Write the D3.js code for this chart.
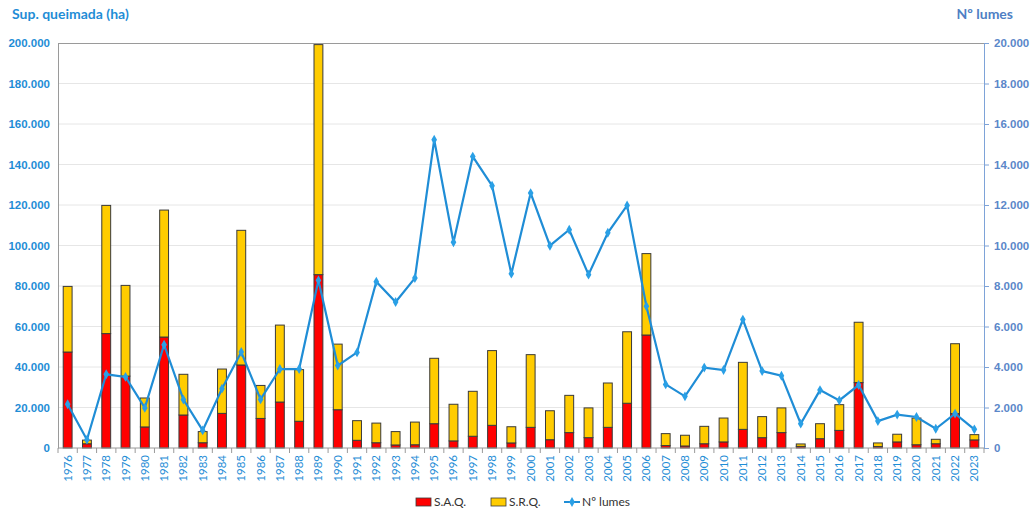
<!DOCTYPE html>
<html>
<head>
<meta charset="utf-8">
<script src="https://cdn.jsdelivr.net/npm/d3@7"></script>
<style>
  body { margin: 0; background: #fff; }
  svg { font-family: Lato, "Noto Sans", sans-serif; }
</style>
</head>
<body>
<svg id="chart" width="1034" height="518"></svg>
<script>
// years on the x axis
var years = [1976,1977,1978,1979,1980,1981,1982,1983,1984,1985,1986,1987,1988,1989,1990,
             1991,1992,1993,1994,1995,1996,1997,1998,1999,2000,2001,2002,2003,2004,2005,
             2006,2007,2008,2009,2010,2011,2012,2013,2014,2015,2016,2017,2018,2019,2020,
             2021,2022,2023];
// S.A.Q. (ha)
var saq = [47400,2100,56500,35500,10400,54800,16300,2600,17100,41000,14600,22700,13200,85600,18900,
           3800,2600,1500,1600,12000,3500,5800,11200,2500,10200,4100,7600,5100,10200,22100,
           55800,1200,1000,2100,3000,9200,5100,7600,800,4600,8700,32300,700,3000,1600,
           2100,17000,4000];
// S.R.Q. (ha) = total minus S.A.Q.
var srq = [32400,1800,63300,44800,14300,62700,20100,5500,21900,66500,16300,38000,25500,113600,32400,
           9700,9700,6600,11200,32300,18100,22200,36900,8000,35900,14300,18400,14700,21900,35300,
           40200,5900,5300,8600,11800,33100,10400,12200,1200,7400,12700,29800,1800,3800,13200,
           2200,34500,2600];
// Nº lumes
var lumes = [2160,410,3640,3510,1980,5100,2390,870,2930,4740,2400,3900,3900,8280,4070,
             4720,8210,7210,8390,15220,10160,14390,12950,8610,12590,9990,10780,8560,10630,11980,
             7000,3140,2550,3970,3850,6340,3800,3570,1200,2860,2350,3110,1330,1650,1530,
             950,1700,920];
var leftTicks = [0,20000,40000,60000,80000,100000,120000,140000,160000,180000,200000];
var rightTicks = [0,2000,4000,6000,8000,10000,12000,14000,16000,18000,20000];

(function () {
    var svg = d3.select("svg#chart");
    var margin = {left: 58, right: 50, top: 43, bottom: 70},
        width = 1034 - margin.left - margin.right,
        height = 518 - margin.top - margin.bottom;

    var pt = d3.formatLocale({decimal: ",", thousands: ".", grouping: [3], currency: ["", ""]});
    var fmt = pt.format(",.0f");

    var x = d3.scaleBand().domain(years).range([0, width]).paddingInner(0.54).paddingOuter(0.27);
    var xc = d3.scaleBand().domain(years).range([0, width]);
    var y = d3.scaleLinear().domain([0, 200000]).range([height, 0]);
    var y2 = d3.scaleLinear().domain([0, 20000]).range([height, 0]);

    var g = svg.append("g").attr("transform", "translate(" + margin.left + "," + margin.top + ")");

    // grid
    g.selectAll("line.grid").data(leftTicks.slice(1, -1)).enter().append("line")
        .attr("x1", 0).attr("x2", width)
        .attr("y1", d => y(d)).attr("y2", d => y(d))
        .attr("stroke", "#e6e6e6").attr("stroke-width", 1);
    // top border
    g.append("line").attr("x1", 0).attr("x2", width).attr("y1", 0.5).attr("y2", 0.5)
        .attr("stroke", "#9a9a9a");

    // left axis
    var ya = g.append("g").call(d3.axisLeft(y).tickValues(leftTicks).tickFormat(fmt).tickSize(0).tickPadding(8));
    ya.select(".domain").attr("stroke", "#9a9a9a");
    ya.selectAll("text").attr("fill", "#1f8dd6").style("font-size", "11.5px").style("font-weight", "bold");

    // right axis
    var ya2 = g.append("g").attr("transform", "translate(" + width + ",0)")
        .call(d3.axisRight(y2).tickValues(rightTicks).tickFormat(fmt).tickSize(5).tickPadding(5));
    ya2.select(".domain").attr("stroke", "#7ea3d8");
    ya2.selectAll(".tick line").attr("stroke", "#7ea3d8");
    ya2.selectAll("text").attr("fill", "#5b87c9").style("font-size", "11.5px").style("font-weight", "bold");

    // bars
    var stack = years.map((yr, i) => ({year: yr, saq: saq[i], srq: srq[i]}));
    var series = d3.stack().keys(["saq", "srq"])(stack);
    var colors = {saq: "#ff0000", srq: "#ffcc00"};
    g.selectAll("g.series").data(series).enter().append("g")
        .attr("fill", d => colors[d.key])
        .selectAll("rect").data(d => d).enter().append("rect")
        .attr("x", d => x(d.data.year))
        .attr("width", x.bandwidth())
        .attr("y", d => y(d[1]))
        .attr("height", d => y(d[0]) - y(d[1]))
        .attr("stroke", "#3a3a3a").attr("stroke-width", 1);

    // bottom axis
    var xa = g.append("g").attr("transform", "translate(0," + height + ")");
    xa.append("line").attr("x1", 0).attr("x2", width).attr("stroke", "#9a9a9a");
    xa.selectAll("line.tk").data(years.concat(["end"])).enter().append("line")
        .attr("x1", (d, i) => i * xc.step()).attr("x2", (d, i) => i * xc.step())
        .attr("y1", 0).attr("y2", 5).attr("stroke", "#9a9a9a");
    xa.selectAll("text").data(years).enter().append("text")
        .attr("transform", d => "translate(" + (xc(d) + xc.bandwidth() / 2 + 4) + ",7) rotate(-90)")
        .attr("text-anchor", "end")
        .attr("fill", "#1f8dd6").style("font-size", "11.5px")
        .text(d => d);

    // line
    var line = d3.line().x((d, i) => xc(years[i]) + xc.bandwidth() / 2).y(d => y2(d));
    g.append("path").datum(lumes).attr("d", line)
        .attr("fill", "none").attr("stroke", "#1f8dd6").attr("stroke-width", 2.2);
    var sym = d3.symbol().type(d3.symbolDiamond).size(28);
    g.selectAll("path.mk").data(lumes).enter().append("path")
        .attr("d", sym)
        .attr("transform", (d, i) => "translate(" + (xc(years[i]) + xc.bandwidth() / 2) + "," + y2(d) + ")")
        .attr("fill", "#2aa0e6");

    // titles
    svg.append("text").attr("x", 12).attr("y", 19).text("Sup. queimada (ha)")
        .attr("fill", "#1f8dd6").style("font-size", "14px").style("font-weight", "bold");
    svg.append("text").attr("x", 1013).attr("y", 19).attr("text-anchor", "end").text("Nº lumes")
        .attr("fill", "#4f7fc4").style("font-size", "14px").style("font-weight", "bold");

    // legend
    var lg = svg.append("g").attr("transform", "translate(0,502)");
    var items = [{label: "S.A.Q.", type: "rect", color: colors.saq, x: 416},
                 {label: "S.R.Q.", type: "rect", color: colors.srq, x: 491},
                 {label: "Nº lumes", type: "line", color: "#1f8dd6", x: 564}];
    items.forEach(function (it) {
        if (it.type === "rect") {
            lg.append("rect").attr("x", it.x).attr("y", -4).attr("width", 15).attr("height", 8)
                .attr("fill", it.color).attr("stroke", "#3a3a3a").attr("stroke-width", 0.8);
        } else {
            lg.append("line").attr("x1", it.x).attr("x2", it.x + 16).attr("y1", 0).attr("y2", 0)
                .attr("stroke", it.color).attr("stroke-width", 2);
            lg.append("path").attr("d", sym).attr("transform", "translate(" + (it.x + 8) + ",0)")
                .attr("fill", "#2aa0e6");
        }
        lg.append("text").attr("x", it.x + 18).attr("y", 4).text(it.label)
            .attr("fill", "#333").style("font-size", "12px");
    });
})();
</script>
</body>
</html>
